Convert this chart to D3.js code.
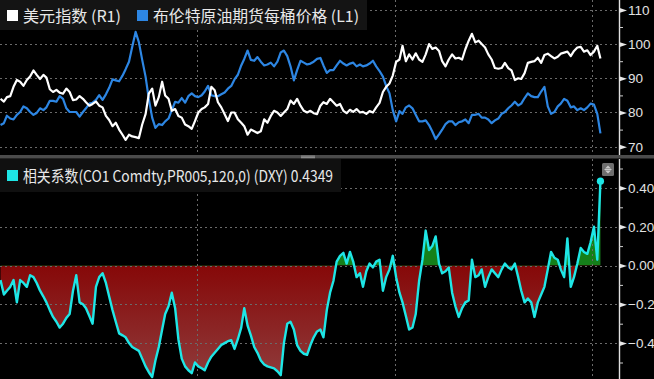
<!DOCTYPE html>
<html>
<head>
<meta charset="utf-8">
<script src="https://cdn.jsdelivr.net/npm/d3@7"></script>
<style>
  html, body { margin: 0; padding: 0; background: #000; }
  svg { display: block; }
</style>
</head>
<body>
<div id="chart"></div>
<script>
// monthly values, Jan 2005 .. Mar 2020
const startYear = 2005;

const dxyValues = [
  84.0, 83.2, 84.5, 84.8, 87.5, 89.5, 89.0, 87.8, 89.5, 90.5, 92.3, 91.0,
  89.8, 91.0, 90.2, 86.8, 86.0, 86.6, 85.8, 85.5, 87.0, 86.0, 83.6, 83.8,
  84.8, 84.0, 83.0, 82.0, 82.5, 83.2, 82.0, 81.5, 79.0, 77.8, 76.0, 77.0,
  75.0, 73.5, 72.0, 73.5, 73.0, 72.8, 72.5, 76.5, 79.5, 85.5, 87.0, 82.0,
  84.5, 89.0, 85.0, 84.0, 80.5, 81.0, 79.0, 78.5, 76.5, 76.0, 75.2, 77.5,
  80.0, 81.0, 81.5, 82.5, 87.5, 86.5, 83.0, 81.5, 79.5, 77.5, 80.0, 80.0,
  78.0, 77.0, 76.0, 73.5, 75.0, 74.5, 74.0, 74.5, 78.0, 77.0, 79.0, 80.5,
  80.0, 79.0, 80.0, 81.0, 83.5, 82.5, 84.0, 82.0, 80.5, 80.0, 80.5, 79.8,
  79.5, 82.0, 83.0, 82.5, 84.0, 83.0, 82.0, 82.5, 80.5, 79.8, 80.8, 80.2,
  81.0, 80.0, 80.2, 79.6, 80.4, 80.0, 81.5, 82.8, 86.0, 87.5, 88.5, 90.8,
  94.8, 95.5, 99.5, 95.0, 97.0, 95.5, 97.3, 95.5, 94.8, 97.0, 100.0, 98.6,
  99.0, 98.0, 95.0, 93.5, 95.5, 97.0, 95.8, 96.0, 95.5, 98.5, 101.0, 103.0,
  100.5, 101.0, 100.0, 99.0, 97.0, 95.5, 93.0, 92.8, 93.0, 94.5, 93.0, 92.3,
  89.5, 90.0, 89.8, 91.5, 94.5, 94.8, 95.0, 96.0, 94.5, 96.8, 97.2, 96.5,
  95.8, 96.3, 97.2, 97.5, 97.8, 96.5, 98.0, 99.0, 99.2, 97.8, 98.2, 96.8,
  97.8, 99.5, 95.8
];

const brentValues = [
  44, 46, 54, 51, 50, 55, 58, 64, 62, 58, 55, 57,
  62, 60, 63, 70, 70, 69, 75, 72, 62, 58, 58, 58,
  53, 58, 62, 67, 68, 71, 76, 71, 77, 84, 93, 92,
  91, 97, 104, 112, 128, 144, 133, 114, 96, 72, 52, 41,
  45, 44, 48, 51, 60, 69, 68, 73, 68, 75, 78, 75,
  74, 76, 80, 86, 76, 75, 75, 77, 79, 83, 86, 93,
  98, 108, 115, 124, 114, 113, 117, 112, 108, 109, 111, 107,
  112, 122, 124, 118, 107, 92, 103, 113, 111, 109, 110, 112,
  115, 116, 108, 100, 103, 103, 108, 113, 110, 108, 110, 111,
  107, 109, 107, 108, 110, 113, 107, 102, 96, 86, 78, 60,
  48, 59, 56, 63, 65, 62, 55, 48, 48, 49, 44, 37,
  29, 34, 39, 45, 48, 48, 44, 47, 48, 50, 46, 55,
  55, 56, 52, 52, 50, 46, 49, 51, 56, 58, 62, 65,
  69, 65, 67, 73, 78, 75, 74, 74, 80, 85, 64, 56,
  58, 64, 67, 72, 70, 63, 64, 60, 62, 60, 63, 67,
  66, 56, 35
];

const corrValues = [
  -0.075, -0.15, -0.13, -0.11, -0.075, -0.19, -0.075, -0.09, -0.11, -0.05, -0.06, -0.09,
  -0.13, -0.16, -0.19, -0.23, -0.265, -0.29, -0.32, -0.30, -0.27, -0.25, -0.13, -0.05,
  -0.19, -0.20, -0.22, -0.26, -0.30, -0.11, -0.06, -0.04, -0.09, -0.16, -0.23, -0.29,
  -0.35, -0.36, -0.37, -0.40, -0.42, -0.43, -0.44, -0.48, -0.52, -0.55, -0.575, -0.49,
  -0.42, -0.33, -0.25, -0.21, -0.14, -0.22, -0.38, -0.48, -0.52, -0.54, -0.555, -0.50,
  -0.52, -0.53, -0.54, -0.50, -0.47, -0.45, -0.43, -0.41, -0.40, -0.39, -0.385, -0.43,
  -0.38, -0.32, -0.22, -0.31, -0.36, -0.42, -0.45, -0.49, -0.51, -0.52, -0.525, -0.53,
  -0.545, -0.565, -0.40, -0.30, -0.29, -0.33, -0.41, -0.44, -0.455, -0.46, -0.41, -0.37,
  -0.34, -0.33, -0.37, -0.23, -0.14, -0.08, 0.02, 0.05, 0.065, 0.01, 0.07, 0.02,
  -0.06, -0.04, -0.11, -0.03, 0.01, -0.01, 0.02, 0.03, -0.13, -0.06, -0.02, 0.05,
  -0.06, -0.14, -0.19, -0.26, -0.33, -0.32, -0.25, -0.08, 0.03, 0.18, 0.08, 0.10,
  0.15, 0.01, -0.04, -0.03, -0.01, -0.14, -0.21, -0.265, -0.22, -0.19, -0.18, 0.03,
  -0.06, -0.05, -0.02, -0.11, -0.06, -0.02, -0.04, -0.06, -0.02, 0.01, -0.01, -0.02,
  0.01, -0.06, -0.13, -0.19, -0.17, -0.19, -0.265, -0.19, -0.15, -0.11, -0.02, 0.07,
  0.04, 0.03, -0.02, -0.06, 0.14, -0.11, -0.06, 0.01, 0.09, 0.07, 0.06, 0.12,
  0.20, 0.03, 0.4349
];

const dxyTicks = [70, 80, 90, 100, 110];
const corrTicks = [-0.4, -0.2, 0, 0.2, 0.4];
const yearLines = [2010, 2015, 2020];

const legendTop = [
  { label: "美元指数 (R1)", color: "#ffffff" },
  { label: "布伦特原油期货每桶价格 (L1)", color: "#2d86e3" }
];
const legendBottom = "相关系数(CO1 Comdty,PR005,120,0) (DXY) 0.4349";

const W = 654, H = 379;
const axisX = 619;
const topPanel = { y0: 0, y1: 155 };
const botPanel = { y0: 159, y1: 379 };

const dates = dxyValues.map((d, i) => new Date(startYear, i, 15));

const svg = d3.select("#chart").append("svg")
  .attr("width", W).attr("height", H)
  .style("background", "#000");

const defs = svg.append("defs");

// scales
const x = d3.scaleTime()
  .domain([new Date(2005, 0, 1), new Date(2020, 7, 15)])
  .range([-1, 617]);

const yDxy = d3.scaleLinear().domain([70, 110]).range([146.7, 9.9]);
const yBrent = d3.scaleLinear().domain([20, 160]).range([147.4, 17]);
const yCorr = d3.scaleLinear().domain([-0.6, 0.6]).range([381.9, 149.1]);

// clip paths
defs.append("clipPath").attr("id", "clipTop")
  .append("rect").attr("x", 0).attr("y", topPanel.y0).attr("width", axisX).attr("height", topPanel.y1 - topPanel.y0);
defs.append("clipPath").attr("id", "clipBot")
  .append("rect").attr("x", 0).attr("y", botPanel.y0).attr("width", axisX).attr("height", botPanel.y1 - botPanel.y0);
defs.append("clipPath").attr("id", "clipNeg")
  .append("rect").attr("x", 0).attr("y", yCorr(0)).attr("width", axisX).attr("height", H - yCorr(0));
defs.append("clipPath").attr("id", "clipPos")
  .append("rect").attr("x", 0).attr("y", botPanel.y0).attr("width", axisX).attr("height", yCorr(0) - botPanel.y0);

const grad = defs.append("linearGradient").attr("id", "redGrad")
  .attr("gradientUnits", "userSpaceOnUse")
  .attr("x1", 0).attr("x2", 0)
  .attr("y1", yCorr(0)).attr("y2", H);
grad.append("stop").attr("offset", "0%").attr("stop-color", "#860808");
grad.append("stop").attr("offset", "100%").attr("stop-color", "#8f3c3c");

// ---------- top panel ----------
const topG = svg.append("g").attr("clip-path", "url(#clipTop)");

// grid
topG.selectAll(".hgrid").data(dxyTicks).enter().append("line")
  .attr("x1", 0).attr("x2", axisX)
  .attr("y1", d => Math.round(yDxy(d)) + 0.5).attr("y2", d => Math.round(yDxy(d)) + 0.5)
  .attr("stroke", "#6a6a6a").attr("stroke-dasharray", "2,3");
topG.selectAll(".vgrid").data(yearLines).enter().append("line")
  .attr("x1", d => Math.round(x(new Date(d, 0, 1))) + 0.5).attr("x2", d => Math.round(x(new Date(d, 0, 1))) + 0.5)
  .attr("y1", topPanel.y0).attr("y2", topPanel.y1)
  .attr("stroke", "#6a6a6a").attr("stroke-dasharray", "2,3");

const lineDxy = d3.line().x((d, i) => x(dates[i])).y(d => yDxy(d));
const lineBrent = d3.line().x((d, i) => x(dates[i])).y(d => yBrent(d));

topG.append("path").datum(brentValues)
  .attr("d", lineBrent).attr("fill", "none")
  .attr("stroke", "#2d86e3").attr("stroke-width", 2.2).attr("stroke-linejoin", "round");
topG.append("path").datum(dxyValues)
  .attr("d", lineDxy).attr("fill", "none")
  .attr("stroke", "#ffffff").attr("stroke-width", 2.2).attr("stroke-linejoin", "round");

// ---------- bottom panel ----------
const botG = svg.append("g").attr("clip-path", "url(#clipBot)");

const areaCorr = d3.area().x((d, i) => x(dates[i])).y0(yCorr(0)).y1(d => yCorr(d));

botG.append("path").datum(corrValues)
  .attr("d", areaCorr).attr("fill", "url(#redGrad)")
  .attr("clip-path", "url(#clipNeg)");
botG.append("path").datum(corrValues)
  .attr("d", areaCorr).attr("fill", "#15801a")
  .attr("clip-path", "url(#clipPos)");

botG.selectAll(".hgrid").data(corrTicks).enter().append("line")
  .attr("x1", 0).attr("x2", axisX)
  .attr("y1", d => Math.round(yCorr(d)) + 0.5).attr("y2", d => Math.round(yCorr(d)) + 0.5)
  .attr("stroke", "#6a6a6a").attr("stroke-dasharray", "2,3");
botG.selectAll(".vgrid").data(yearLines).enter().append("line")
  .attr("x1", d => Math.round(x(new Date(d, 0, 1))) + 0.5).attr("x2", d => Math.round(x(new Date(d, 0, 1))) + 0.5)
  .attr("y1", botPanel.y0).attr("y2", botPanel.y1)
  .attr("stroke", "#6a6a6a").attr("stroke-dasharray", "2,3");

const lineCorr = d3.line().x((d, i) => x(dates[i])).y(d => yCorr(d));
botG.append("path").datum(corrValues)
  .attr("d", lineCorr).attr("fill", "none")
  .attr("stroke", "#1ee6e6").attr("stroke-width", 2.4).attr("stroke-linejoin", "round");

const last = corrValues.length - 1;
svg.append("circle")
  .attr("cx", x(dates[last])).attr("cy", yCorr(corrValues[last]))
  .attr("r", 3.6).attr("fill", "#1ee6e6");

// ---------- separator ----------
svg.append("rect").attr("x", 0).attr("y", 155).attr("width", W).attr("height", 3.5).attr("fill", "#4b4b4b");
svg.append("rect").attr("x", 301).attr("y", 155.6).attr("width", 14).attr("height", 1).attr("fill", "#9a9a9a");
svg.append("rect").attr("x", 301).attr("y", 157.2).attr("width", 14).attr("height", 1).attr("fill", "#9a9a9a");

// ---------- right axes ----------
function drawAxis(scale, ticks, minor, fmt, y0, y1) {
  const g = svg.append("g");
  g.append("line").attr("x1", axisX + 0.5).attr("x2", axisX + 0.5)
    .attr("y1", y0).attr("y2", y1).attr("stroke", "#e0e0e0").attr("stroke-width", 1.4);

  const ax = d3.axisRight(scale).tickValues(ticks).tickSize(0).tickPadding(9).tickFormat(fmt);
  const ga = g.append("g").attr("transform", `translate(${axisX},0)`).call(ax);
  ga.select(".domain").remove();
  ga.selectAll("text")
    .attr("fill", "#e2e2e2")
    .style("font-family", "'Liberation Sans', Arial, sans-serif")
    .style("font-size", "13.5px");
  ga.selectAll(".tick").append("path")
    .attr("d", "M0,-2.6L8,0L0,2.6Z").attr("fill", "#e8e8e8");

  const am = d3.axisRight(scale).tickValues(minor).tickSize(4).tickFormat("");
  const gm = g.append("g").attr("transform", `translate(${axisX},0)`).call(am);
  gm.select(".domain").remove();
  gm.selectAll("line").attr("stroke", "#d0d0d0");
}
drawAxis(yDxy, dxyTicks, [75, 85, 95, 105], d3.format("d"), topPanel.y0, topPanel.y1);
drawAxis(yCorr, corrTicks, [-0.5, -0.3, -0.1, 0.1, 0.3, 0.5], d3.format(".2f"), botPanel.y0, botPanel.y1);

// small scroll icon in bottom panel
const icon = svg.append("g").attr("transform", "translate(602,163)");
icon.append("rect").attr("width", 12).attr("height", 13).attr("rx", 1.5).attr("fill", "#6e6e6e");
icon.append("path").attr("d", "M3,5.5L6,2.5L9,5.5Z M3,7.5L6,10.5L9,7.5Z").attr("fill", "#c8c8c8");
icon.append("line").attr("x1", 2.5).attr("x2", 9.5).attr("y1", 6.5).attr("y2", 6.5).attr("stroke", "#c8c8c8");

// ---------- legends ----------
const legFont = "'Noto Sans CJK SC', 'Noto Sans', sans-serif";

svg.append("rect").attr("x", 0).attr("y", 0).attr("width", 367).attr("height", 30).attr("fill", "#141414");
const legX = [7, 137];
const legW = [98, 206];
legendTop.forEach((d, i) => {
  svg.append("rect").attr("x", legX[i]).attr("y", 10).attr("width", 11).attr("height", 11).attr("fill", d.color);
  svg.append("text").attr("x", legX[i] + 16).attr("y", 21.5)
    .attr("fill", "#e8e8e8")
    .attr("textLength", legW[i]).attr("lengthAdjust", "spacingAndGlyphs")
    .style("font-family", legFont).style("font-size", "15.5px")
    .text(d.label);
});

svg.append("rect").attr("x", 0).attr("y", 159).attr("width", 341).attr("height", 33).attr("fill", "#101010");
svg.append("rect").attr("x", 7).attr("y", 170).attr("width", 11).attr("height", 11).attr("fill", "#1ee6e6");
svg.append("text").attr("x", 23).attr("y", 182)
  .attr("fill", "#e8e8e8")
  .attr("textLength", 310).attr("lengthAdjust", "spacingAndGlyphs")
  .style("font-family", legFont).style("font-size", "15.5px")
  .text(legendBottom);
</script>
</body>
</html>
